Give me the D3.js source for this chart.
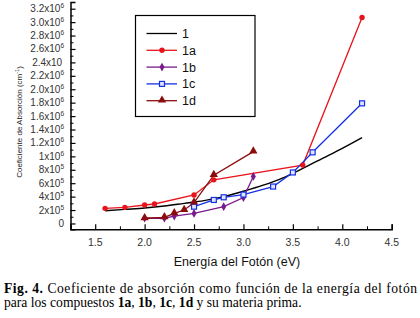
<!DOCTYPE html>
<html><head><meta charset="utf-8">
<script src="https://cdn.jsdelivr.net/npm/d3@7"></script>
<style>body{margin:0;background:#fff;}svg{display:block;}</style>
</head><body>
<svg id="c" width="420" height="318"></svg>
<script>
// Data
const s1x = [1.6,1.8,2.0,2.2,2.4,2.6,2.8,3.0,3.2,3.4,3.6,3.8,4.0,4.2];
const s1y = [0.19e6,0.21e6,0.23e6,0.26e6,0.30e6,0.34e6,0.40e6,0.48e6,0.57e6,0.68e6,0.82e6,0.97e6,1.12e6,1.28e6];
const s1ax = [1.6,1.8,2.0,2.1,2.5,2.7,3.6,4.2];
const s1ay = [0.225e6,0.24e6,0.275e6,0.29e6,0.425e6,0.65e6,0.87e6,3.07e6];
const s1bx = [2.0,2.2,2.3,2.5,2.8,3.0,3.1];
const s1by = [0.078e6,0.078e6,0.11e6,0.15e6,0.25e6,0.385e6,0.70e6];
const s1cx = [2.5,2.7,2.8,3.0,3.3,3.5,3.7,4.2];
const s1cy = [0.25e6,0.35e6,0.39e6,0.43e6,0.55e6,0.76e6,1.06e6,1.79e6];
const s1dx = [2.0,2.2,2.3,2.4,2.5,2.7,3.1];
const s1dy = [0.078e6,0.09e6,0.15e6,0.20e6,0.31e6,0.72e6,1.07e6];
const seriesNames = ["1","1a","1b","1c","1d"];
const xTicks = [1.5,2.0,2.5,3.0,3.5,4.0,4.5];
const yTicks = [0,2e5,4e5,6e5,8e5,1e6,1.2e6,1.4e6,1.6e6,1.8e6,2.0e6,2.2e6,2.4e6,2.6e6,2.8e6,3.0e6,3.2e6];
const yTickBase = ["0","2x10","4x10","6x10","8x10","1x10","1.2x10","1.4x10","1.6x10","1.8x10","2.0x10","2.2x10","2.4x10","2.6x10","2.8x10","3.0x10","3.2x10"];
const yTickExp = ["","5","5","5","5","6","6","6","6","6","6","6","","6","6","6","6"];
const xTitle = "Energía del Fotón (eV)";
const yTitle = "Coeficiente de Absorción (cm";
const captionBold = "Fig. 4.";
const caption1 = " Coeficiente de absorción como función de la energía del fotón";
const caption2a = "para los compuestos ";

const svg = d3.select("#c");
const x = d3.scaleLinear().domain([1.25,4.5]).range([70.5,391.7]);
const y = d3.scaleLinear().domain([-0.087e6,3.3e6]).range([229.3,2]);

const colors = {"1":"#000000","1a":"#e8141c","1b":"#7a1a8c","1c":"#1530e0","1d":"#8a0c0c"};
const data = {
  "1": s1x.map((v,i)=>[v,s1y[i]]),
  "1a": s1ax.map((v,i)=>[v,s1ay[i]]),
  "1b": s1bx.map((v,i)=>[v,s1by[i]]),
  "1c": s1cx.map((v,i)=>[v,s1cy[i]]),
  "1d": s1dx.map((v,i)=>[v,s1dy[i]])
};

// axes
const axisG = svg.append("g");
const xMinor = d3.range(1.25,4.51,0.25).filter(v=>!xTicks.some(t=>Math.abs(t-v)<1e-6));
const xAxis = d3.axisBottom(x).tickValues(xTicks).tickSize(-5).tickFormat("");
axisG.append("g").attr("transform","translate(0,229.3)").call(xAxis)
  .call(g=>{g.select(".domain").attr("stroke","#000").attr("stroke-width",1.5);g.selectAll(".tick line").attr("stroke","#000").attr("stroke-width",1.2);});
axisG.append("g").attr("transform","translate(0,229.3)")
  .call(d3.axisBottom(x).tickValues(xMinor).tickSize(-3).tickFormat(""))
  .call(g=>{g.select(".domain").remove();g.selectAll(".tick line").attr("stroke","#000").attr("stroke-width",1);});
svg.append("g").selectAll("text").data(xTicks).join("text")
  .attr("x",d=>x(d)).attr("y",245.5).attr("text-anchor","middle")
  .attr("font-family","Liberation Sans, Arial, sans-serif").attr("font-size",10.5).attr("fill","#333")
  .text(d=>d.toFixed(1));

const yMinor = d3.range(1e5,3.3e6,2e5);
axisG.append("g").attr("transform","translate(70.5,0)")
  .call(d3.axisLeft(y).tickValues(yTicks).tickSize(-5).tickFormat(""))
  .call(g=>{g.select(".domain").attr("stroke","#000").attr("stroke-width",1.5);g.selectAll(".tick line").attr("stroke","#000").attr("stroke-width",1.2);});
axisG.append("g").attr("transform","translate(70.5,0)")
  .call(d3.axisLeft(y).tickValues(yMinor).tickSize(-3).tickFormat(""))
  .call(g=>{g.select(".domain").remove();g.selectAll(".tick line").attr("stroke","#000").attr("stroke-width",1);});
const yl = svg.append("g").selectAll("text").data(yTicks).join("text")
  .attr("x",d=>64).attr("y",d=>y(d)+3.5).attr("text-anchor","end")
  .attr("font-family","Liberation Sans, Arial, sans-serif").attr("font-size",10).attr("fill","#333");
yl.each(function(d,i){
  const t=d3.select(this);
  t.append("tspan").text(yTickBase[i]);
  if(yTickExp[i]) t.append("tspan").attr("dy",-4).attr("font-size",6.5).text(yTickExp[i]);
  else if(i>0) t.append("tspan").attr("dy",-4).attr("font-size",6.5).text("\u00a0");
});

// titles
svg.append("text").attr("x",237).attr("y",266).attr("text-anchor","middle")
  .attr("font-family","Liberation Sans, Arial, sans-serif").attr("font-size",12.5).attr("fill","#111").text(xTitle);
const yt = svg.append("text").attr("transform","translate(22,122) rotate(-90)").attr("text-anchor","middle")
  .attr("font-family","Liberation Sans, Arial, sans-serif").attr("font-size",8).attr("fill","#222");
yt.append("tspan").text(yTitle);
yt.append("tspan").attr("dy",-3).attr("font-size",5.5).text("-1");
yt.append("tspan").attr("dy",3).text(")");

// lines
const line = d3.line().x(d=>x(d[0])).y(d=>y(d[1]));
const curve1 = d3.line().x(d=>x(d[0])).y(d=>y(d[1])).curve(d3.curveMonotoneX);
seriesNames.forEach(n=>{
  svg.append("path").datum(data[n]).attr("d", n==="1"?curve1:line)
    .attr("fill","none").attr("stroke",colors[n]).attr("stroke-width",n==="1"?1.4:1.3);
});

function marker(g,n,cx,cy){
  if(n==="1a") g.append("circle").attr("cx",cx).attr("cy",cy).attr("r",2.7).attr("fill",colors[n]);
  else if(n==="1b") g.append("path").attr("d",d3.symbol(d3.symbolDiamond,22)()).attr("transform",`translate(${cx},${cy})`).attr("fill",colors[n]);
  else if(n==="1c") g.append("rect").attr("x",cx-2.5).attr("y",cy-2.5).attr("width",5).attr("height",5).attr("fill","#dfe3ff").attr("stroke",colors[n]).attr("stroke-width",1.2);
  else if(n==="1d") g.append("path").attr("d",d3.symbol(d3.symbolTriangle,30)()).attr("transform",`translate(${cx},${cy-0.5})`).attr("fill",colors[n]);
}
["1a","1b","1c","1d"].forEach(n=>{
  const g=svg.append("g");
  data[n].forEach(d=>marker(g,n,x(d[0]),y(d[1])));
});

// legend
const lg = svg.append("g");
lg.append("rect").attr("x",135.5).attr("y",15.5).attr("width",119.5).attr("height",101)
  .attr("fill","#fff").attr("stroke","#000").attr("stroke-width",1.2);
seriesNames.forEach((n,i)=>{
  const ly = 33.5 + i*16.8;
  lg.append("line").attr("x1",146.5).attr("x2",177).attr("y1",ly).attr("y2",ly).attr("stroke",colors[n]).attr("stroke-width",1.3);
  if(n!=="1") marker(lg,n,162,ly);
  lg.append("text").attr("x",182).attr("y",ly+4.5).attr("font-family","Liberation Sans, Arial, sans-serif")
    .attr("font-size",12.5).attr("fill","#111").text(n);
});

// caption
const cf = "Liberation Serif, Times New Roman, serif";
const c1 = svg.append("text").attr("x",4).attr("y",292.5).attr("font-family",cf).attr("font-size",13.6).attr("fill","#000")
  .attr("textLength",413).attr("lengthAdjust","spacing");
c1.append("tspan").attr("font-weight","bold").text(captionBold);
c1.append("tspan").text(caption1);
const c2 = svg.append("text").attr("x",4).attr("y",306.5).attr("font-family",cf).attr("font-size",13.6).attr("fill","#000");
c2.append("tspan").text(caption2a);
[["1a",true],[", ",false],["1b",true],[", ",false],["1c",true],[", ",false],["1d",true],[" y su materia prima.",false]].forEach(([t,b])=>{
  c2.append("tspan").attr("font-weight",b?"bold":"normal").text(t);
});
</script>
</body></html>
